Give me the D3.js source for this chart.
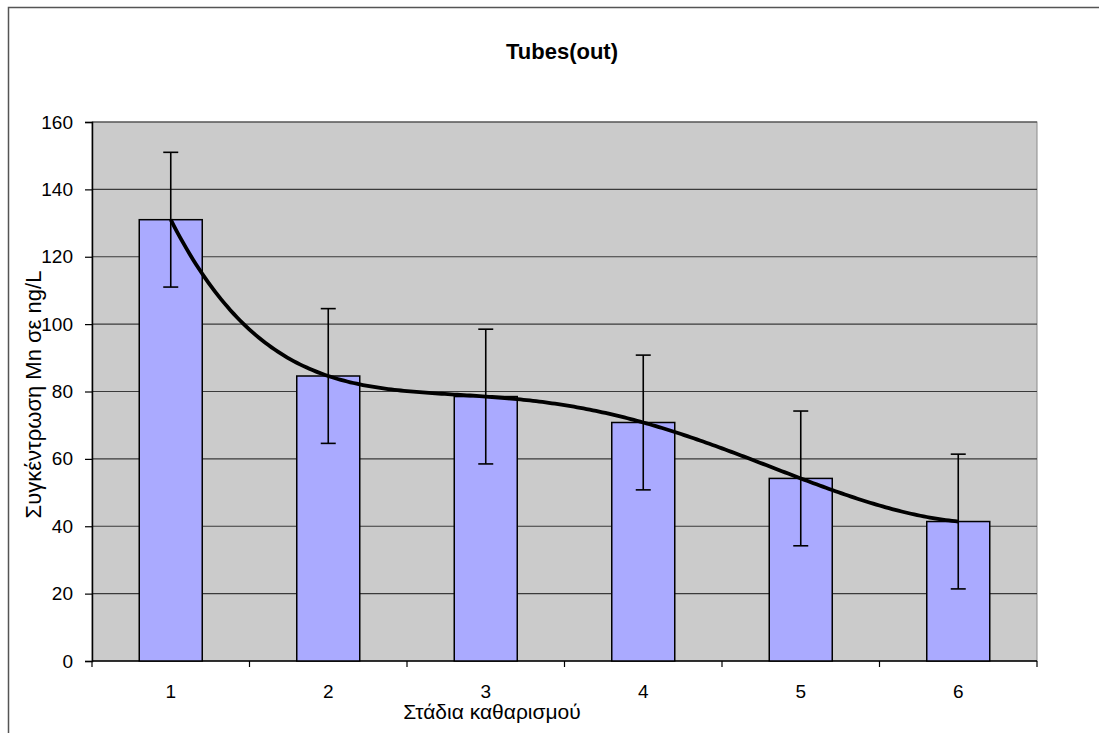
<!DOCTYPE html>
<html>
<head>
<meta charset="utf-8">
<script src="https://cdn.jsdelivr.net/npm/d3@7"></script>
<style>
  html, body { margin: 0; padding: 0; background: #fff; }
  svg { display: block; font-family: "Liberation Sans", Arial, sans-serif; }
</style>
</head>
<body>
<svg id="chart" width="1099" height="733"></svg>
<script>
// Mn concentration per cleaning stage
const stages = ["1", "2", "3", "4", "5", "6"];
const meanValues = [131, 84.6, 78.5, 70.8, 54.2, 41.4];
const errorValues = [20, 20, 20, 20, 20, 20];
const yTicks = [0, 20, 40, 60, 80, 100, 120, 140, 160];

const titleText = "Tubes(out)";
const xTitle = "Στάδια καθαρισμού";
const yTitle = "Συγκέντρωση Mn σε ng/L";

const svg = d3.select("#chart");
const plot = { left: 92, right: 1037, top: 122, bottom: 661 };

// outer chart frame (left and top edges visible)
svg.append("path")
  .attr("d", "M8.5,733 V7.5 H1099")
  .attr("fill", "none")
  .attr("stroke", "#555")
  .attr("stroke-width", 1.5);

const xOuter = d3.scaleBand().domain(stages).range([plot.left, plot.right]).padding(0);
const y = d3.scaleLinear().domain([0, 160]).range([plot.bottom, plot.top]);
const cx = d => xOuter(d) + xOuter.bandwidth() / 2;
const barWidth = xOuter.bandwidth() / 2.5;   // gap width 150%

// plot area background
svg.append("rect")
  .attr("x", plot.left).attr("y", plot.top)
  .attr("width", plot.right - plot.left).attr("height", plot.bottom - plot.top)
  .attr("fill", "#cbcbcb")
  .attr("stroke", "#8a8a8a")
  .attr("stroke-width", 1);

// horizontal gridlines
svg.append("g").selectAll("line")
  .data(yTicks.filter(d => d > 0))
  .join("line")
  .attr("x1", plot.left).attr("x2", plot.right)
  .attr("y1", d => y(d)).attr("y2", d => y(d))
  .attr("stroke", "#3a3a3a")
  .attr("stroke-width", 1.2);

// y axis
const yAxis = svg.append("g")
  .attr("transform", `translate(${plot.left},0)`)
  .call(d3.axisLeft(y).tickValues(yTicks).tickSize(7).tickPadding(12));
yAxis.select(".domain").attr("stroke", "#000").attr("stroke-width", 1.5);
yAxis.selectAll(".tick line").attr("stroke", "#000").attr("stroke-width", 1.2);
yAxis.selectAll("text").attr("font-size", 19).attr("fill", "#000")
  .attr("font-family", "Liberation Sans, Arial, sans-serif");

// x axis with ticks on category boundaries
const xAxisG = svg.append("g").attr("transform", `translate(0,${plot.bottom})`);
xAxisG.append("line")
  .attr("x1", plot.left).attr("x2", plot.right)
  .attr("y1", 0).attr("y2", 0)
  .attr("stroke", "#000").attr("stroke-width", 1.5);
const boundaries = stages.map(s => xOuter(s)).concat([plot.right]);
xAxisG.selectAll("line.tick")
  .data(boundaries)
  .join("line")
  .attr("class", "tick")
  .attr("x1", d => d).attr("x2", d => d)
  .attr("y1", 0).attr("y2", 6)
  .attr("stroke", "#000").attr("stroke-width", 1.2);
xAxisG.selectAll("text")
  .data(stages)
  .join("text")
  .attr("x", d => cx(d))
  .attr("y", 37)
  .attr("text-anchor", "middle")
  .attr("font-size", 19)
  .text(d => d);

// bars
svg.append("g").selectAll("rect")
  .data(stages)
  .join("rect")
  .attr("x", d => cx(d) - barWidth / 2)
  .attr("width", barWidth)
  .attr("y", (d, i) => y(meanValues[i]))
  .attr("height", (d, i) => y(0) - y(meanValues[i]))
  .attr("fill", "#aaaaff")
  .attr("stroke", "#000")
  .attr("stroke-width", 1.5);

// polynomial trendline (order 5) through the stage means
const xs = stages.map(Number);
function trend(t) {
  let sum = 0;
  for (let i = 0; i < xs.length; i++) {
    let term = meanValues[i];
    for (let j = 0; j < xs.length; j++) {
      if (j !== i) term *= (t - xs[j]) / (xs[i] - xs[j]);
    }
    sum += term;
  }
  return sum;
}
const xNum = d3.scaleLinear().domain([1, 6]).range([cx("1"), cx("6")]);
const trendSamples = d3.range(1, 6.0001, 0.02).map(t => ({ t, v: trend(t) }));
svg.append("path")
  .datum(trendSamples)
  .attr("d", d3.line().x(d => xNum(d.t)).y(d => y(d.v)).curve(d3.curveLinear))
  .attr("fill", "none")
  .attr("stroke", "#000")
  .attr("stroke-width", 3.8)
  .attr("stroke-linejoin", "round");

// error bars
const eb = svg.append("g").attr("stroke", "#000").attr("stroke-width", 1.6);
stages.forEach((s, i) => {
  const hi = y(meanValues[i] + errorValues[i]);
  const lo = y(meanValues[i] - errorValues[i]);
  const c = cx(s);
  eb.append("line").attr("x1", c).attr("x2", c).attr("y1", hi).attr("y2", lo);
  eb.append("line").attr("x1", c - 7.5).attr("x2", c + 7.5).attr("y1", hi).attr("y2", hi);
  eb.append("line").attr("x1", c - 7.5).attr("x2", c + 7.5).attr("y1", lo).attr("y2", lo);
});

// titles
svg.append("text")
  .attr("x", 562).attr("y", 59)
  .attr("text-anchor", "middle")
  .attr("font-size", 22).attr("font-weight", "bold")
  .text(titleText);

svg.append("text")
  .attr("x", 492).attr("y", 719)
  .attr("text-anchor", "middle")
  .attr("font-size", 21)
  .text(xTitle);

svg.append("text")
  .attr("transform", `translate(41,${(plot.top + plot.bottom) / 2 + 3}) rotate(-90)`)
  .attr("text-anchor", "middle")
  .attr("font-size", 22)
  .text(yTitle);
</script>
</body>
</html>
